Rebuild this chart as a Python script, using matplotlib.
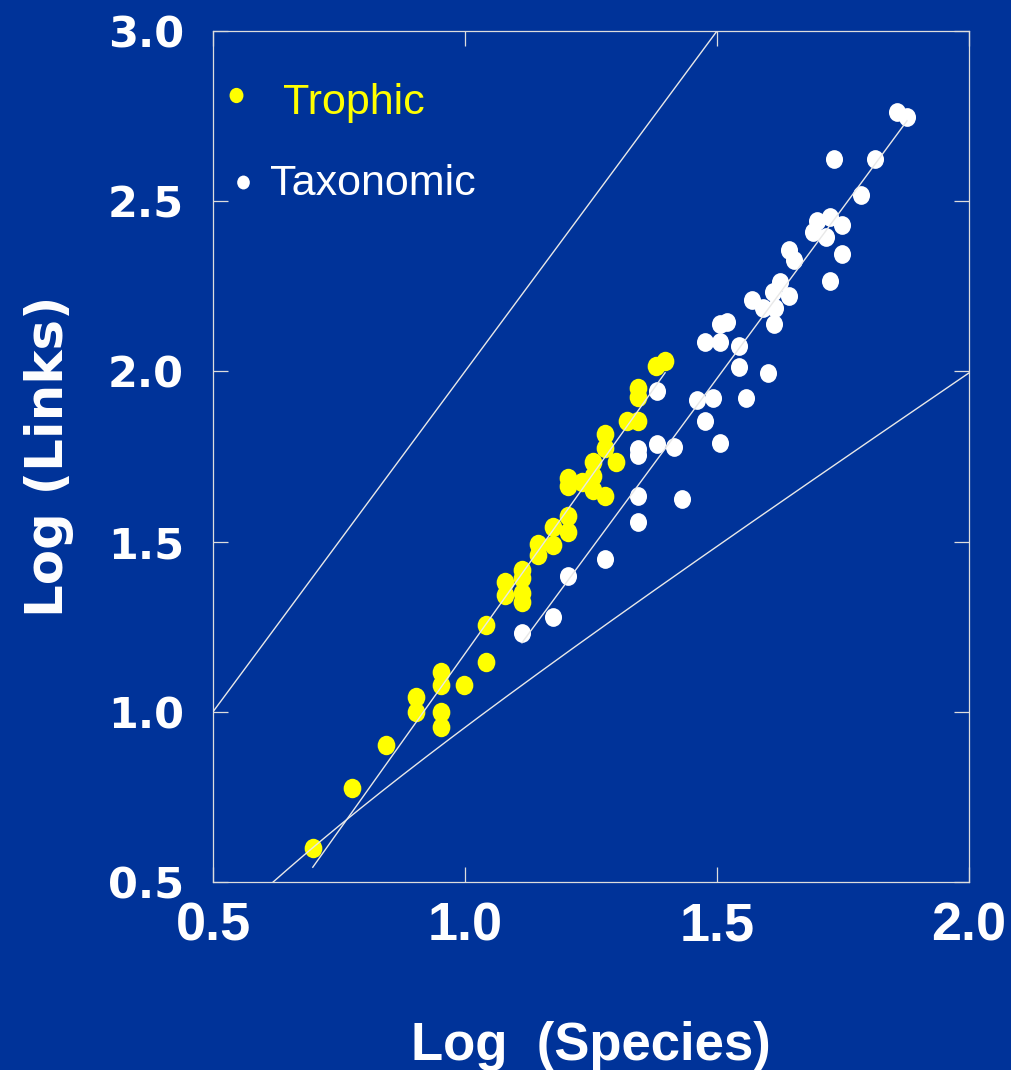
import numpy as np
import matplotlib
matplotlib.use("Agg")
import matplotlib.pyplot as plt
from matplotlib.path import Path

# Data: log10(species), log10(links)
trophic_x = [0.698, 0.776, 0.843, 0.903, 0.903, 0.952, 0.952, 0.952, 0.952, 0.998,
             1.042, 1.042, 1.079, 1.079, 1.113, 1.113, 1.113, 1.113, 1.145, 1.145,
             1.175, 1.175, 1.204, 1.204, 1.204, 1.204, 1.232, 1.254, 1.254, 1.254,
             1.278, 1.278, 1.278, 1.300, 1.321, 1.343, 1.343, 1.343, 1.379, 1.397]
trophic_y = [0.600, 0.776, 0.903, 1.044, 1.000, 1.118, 1.079, 1.000, 0.956, 1.079,
             1.147, 1.256, 1.382, 1.344, 1.418, 1.394, 1.350, 1.324, 1.494, 1.462,
             1.544, 1.491, 1.574, 1.529, 1.688, 1.662, 1.676, 1.735, 1.694, 1.653,
             1.776, 1.815, 1.635, 1.735, 1.853, 1.853, 1.950, 1.926, 2.015, 2.030]

taxo_x = [1.113, 1.175, 1.204, 1.278, 1.343, 1.343, 1.343, 1.343, 1.381, 1.415,
          1.381, 1.431, 1.460, 1.492, 1.476, 1.506, 1.558, 1.476, 1.506, 1.506,
          1.520, 1.544, 1.544, 1.601, 1.613, 1.569, 1.591, 1.615, 1.611, 1.625,
          1.643, 1.643, 1.653, 1.724, 1.748, 1.690, 1.716, 1.698, 1.724, 1.748,
          1.786, 1.732, 1.813, 1.857, 1.877]
taxo_y = [1.232, 1.279, 1.400, 1.450, 1.559, 1.635, 1.753, 1.771, 1.788, 1.779,
          1.941, 1.626, 1.915, 1.921, 1.853, 1.791, 1.921, 2.085, 2.085, 2.138,
          2.144, 2.074, 2.012, 1.994, 2.138, 2.209, 2.185, 2.185, 2.232, 2.262,
          2.221, 2.356, 2.326, 2.265, 2.344, 2.409, 2.394, 2.441, 2.453, 2.429,
          2.518, 2.624, 2.624, 2.762, 2.747]

# regression lines (slope, intercept)
trophic_fit = (2.078, -0.907)
taxo_fit = (2.007, -1.031)

bg = "#003399"
fig = plt.figure(figsize=(10.11, 10.70), dpi=100, facecolor=bg)
ax = fig.add_axes([213/1011, 1 - 882/1070, 756/1011, 851/1070], facecolor=bg)

# slightly tall dots, like the slide
circ = Path.unit_circle()
dot = Path(circ.vertices * [1.0, 1.1], circ.codes)

# bounds: L = S^2 (upper) and L = S - 1 (lower)
s_up = np.linspace(0.5, 1.5, 50)
ax.plot(s_up, 2 * s_up, color="#e8e8e8", lw=1.0, zorder=4)
s_lo = np.linspace(np.log10(10**0.5 + 1), 2.0, 200)
ax.plot(s_lo, np.log10(10**s_lo - 1), color="#e8e8e8", lw=1.0, zorder=4)

ax.plot(taxo_x, taxo_y, ls="none", marker=dot, color="white", ms=13.5, mec="none", zorder=2)
ax.plot(trophic_x, trophic_y, ls="none", marker=dot, color="yellow", ms=14, mec="none", zorder=3)

# fitted lines over each data range
for xs, (b, a) in [(trophic_x, trophic_fit), (taxo_x, taxo_fit)]:
    xr = np.array([min(xs), max(xs)])
    ax.plot(xr, a + b * xr, color="#e8e8e8", lw=1.0, zorder=4)

ax.set_xlim(0.5, 2.0)
ax.set_ylim(0.5, 3.0)
ax.set_xticks([0.5, 1.0, 1.5, 2.0])
ax.set_yticks([0.5, 1.0, 1.5, 2.0, 2.5, 3.0])
ax.set_xticklabels(["0.5", "1.0", "1.5", "2.0"], family="Liberation Sans",
                   fontweight="bold", fontsize=39, color="white")
ax.set_yticklabels(["0.5", "1.0", "1.5", "2.0", "2.5", "3.0"], family="DejaVu Sans",
                   fontweight="bold", fontsize=31, color="white")
ax.tick_params(direction="in", length=11, width=0.9, color="#dddddd",
               top=True, right=True)
ax.tick_params(axis="x", pad=14)
ax.tick_params(axis="y", pad=21)
for sp in ax.spines.values():
    sp.set_color("#dddddd")
    sp.set_linewidth(0.9)

ax.set_xlabel("Log  (Species)", family="Liberation Sans", fontweight="bold",
              fontsize=38, color="white", labelpad=50)
ax.set_ylabel("Log (Links)", family="DejaVu Sans", fontweight="bold",
              fontsize=37, color="white", labelpad=24)

# legend
ax.plot([0.0304], [0.9247], ls="none", marker=dot, color="yellow", ms=11, mec="none",
        transform=ax.transAxes)
ax.text(0.0926, 0.9150, "Trophic", transform=ax.transAxes, color="yellow",
        family="Liberation Sans", fontsize=31, va="center", ha="left")
ax.plot([0.0397], [0.8224], ls="none", marker=dot, color="white", ms=10, mec="none",
        transform=ax.transAxes)
ax.text(0.076, 0.8200, "Taxonomic", transform=ax.transAxes, color="white",
        family="Liberation Sans", fontsize=31, va="center", ha="left")

fig.savefig("out.png", dpi=100, facecolor=bg)
